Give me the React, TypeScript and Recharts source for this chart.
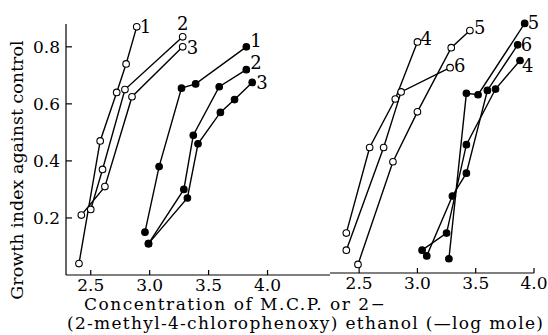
import React from 'react';
import { LineChart, Line, XAxis, YAxis } from 'recharts';

const FONT = '"DejaVu Serif", serif';

// tick values
const xTicks = [2.5, 3.0, 3.5, 4.0];
const yTicks = [0.2, 0.4, 0.6, 0.8];

// Left panel (M.C.P.): open circles
const open1X = [2.40, 2.58, 2.72, 2.80, 2.89];
const open1Y = [0.04, 0.47, 0.64, 0.74, 0.87];
const open2X = [2.50, 2.60, 2.79, 3.28];
const open2Y = [0.23, 0.37, 0.65, 0.835];
const open3X = [2.42, 2.62, 2.85, 3.28];
const open3Y = [0.21, 0.31, 0.625, 0.80];
// Left panel: filled circles
const filled1X = [2.96, 3.08, 3.27, 3.39, 3.82];
const filled1Y = [0.15, 0.38, 0.655, 0.67, 0.80];
const filled2X = [2.99, 3.29, 3.37, 3.59, 3.82];
const filled2Y = [0.11, 0.30, 0.49, 0.66, 0.72];
const filled3X = [2.99, 3.32, 3.41, 3.60, 3.72, 3.87];
const filled3Y = [0.11, 0.27, 0.46, 0.57, 0.615, 0.675];

// Right panel: open circles
const open4X = [2.39, 2.59, 2.81, 3.00];
const open4Y = [0.14, 0.44, 0.61, 0.81];
const open5X = [2.49, 2.79, 3.00, 3.29, 3.45];
const open5Y = [0.03, 0.39, 0.565, 0.79, 0.85];
const open6X = [2.39, 2.71, 2.86, 3.28];
const open6Y = [0.08, 0.44, 0.635, 0.72];
// Right panel: filled circles
const filled4X = [3.04, 3.25, 3.42, 3.67, 3.88];
const filled4Y = [0.08, 0.14, 0.45, 0.645, 0.745];
const filled5X = [3.27, 3.42, 3.52, 3.92];
const filled5Y = [0.05, 0.63, 0.625, 0.875];
const filled6X = [3.08, 3.30, 3.42, 3.60, 3.86];
const filled6Y = [0.06, 0.27, 0.35, 0.64, 0.80];

type Series = { id: string; name: string; xs: number[]; ys: number[]; open: boolean; dx: number; dy: number; anchor?: string };

const leftSeries: Series[] = [
  { id: 'o1', name: '1', xs: open1X, ys: open1Y, open: true, dx: 3, dy: 6 },
  { id: 'o2', name: '2', xs: open2X, ys: open2Y, open: true, dx: 0, dy: -7, anchor: 'middle' },
  { id: 'o3', name: '3', xs: open3X, ys: open3Y, open: true, dx: 4, dy: 7 },
  { id: 'f1', name: '1', xs: filled1X, ys: filled1Y, open: false, dx: 4, dy: 0 },
  { id: 'f2', name: '2', xs: filled2X, ys: filled2Y, open: false, dx: 4, dy: -1 },
  { id: 'f3', name: '3', xs: filled3X, ys: filled3Y, open: false, dx: 4, dy: 7 },
];

const rightSeries: Series[] = [
  { id: 'o4', name: '4', xs: open4X, ys: open4Y, open: true, dx: 3, dy: 3 },
  { id: 'o5', name: '5', xs: open5X, ys: open5Y, open: true, dx: 4, dy: 3 },
  { id: 'o6', name: '6', xs: open6X, ys: open6Y, open: true, dx: 4, dy: 4 },
  { id: 'f4', name: '4', xs: filled4X, ys: filled4Y, open: false, dx: 2, dy: 11 },
  { id: 'f5', name: '5', xs: filled5X, ys: filled5Y, open: false, dx: 3, dy: 6 },
  { id: 'f6', name: '6', xs: filled6X, ys: filled6Y, open: false, dx: 3, dy: 6 },
];

const toData = (xs: number[], ys: number[]) => xs.map((x, i) => ({ x, y: ys[i] }));

function renderLine(s: Series) {
  const data = toData(s.xs, s.ys);
  const last = data.length - 1;
  const dot = (p: any) => (
    <g key={`${s.id}-${p.index}`}>
      <circle
        cx={p.cx}
        cy={p.cy}
        r={3.3}
        fill={s.open ? '#fff' : '#000'}
        stroke="#000"
        strokeWidth={1.1}
      />
      {p.index === last ? (
        <text
          x={p.cx + s.dx}
          y={p.cy + s.dy}
          textAnchor={s.anchor || 'start'}
          fontFamily={FONT}
          fontSize={18}
          fill="#000"
        >
          {s.name}
        </text>
      ) : null}
    </g>
  );
  return (
    <Line
      key={s.id}
      data={data}
      dataKey="y"
      type="linear"
      stroke="#000"
      strokeWidth={1.4}
      dot={dot}
      activeDot={false}
      isAnimationActive={false}
    />
  );
}

const tickStyle = { fill: '#000', fontSize: 17, fontFamily: FONT };
const fmt = (v: number) => v.toFixed(1);

export default function App() {
  return (
    <div style={{ position: 'absolute', left: 0, top: 0, width: 548, height: 335, background: '#fff' }}>
      <div style={{ position: 'absolute', left: 0, top: 0 }}>
        <LineChart width={548} height={335} margin={{ top: 24, right: 218, bottom: 30, left: 36 }}>
          <XAxis
            type="number"
            dataKey="x"
            domain={[2.29, 4.53]}
            ticks={xTicks}
            tickFormatter={fmt}
            interval={0}
            height={30}
            tickSize={-5}
            tickMargin={9}
            tick={tickStyle}
            axisLine={{ stroke: '#000', strokeWidth: 1.2 }}
            tickLine={{ stroke: '#000', strokeWidth: 1.2 }}
            allowDataOverflow
          />
          <YAxis
            type="number"
            domain={[0, 0.88]}
            ticks={yTicks}
            tickFormatter={fmt}
            interval={0}
            width={30}
            tickSize={-6}
            tickMargin={12}
            tick={tickStyle}
            axisLine={{ stroke: '#000', strokeWidth: 1.2 }}
            tickLine={{ stroke: '#000', strokeWidth: 1.2 }}
          />
          {leftSeries.map(renderLine)}
        </LineChart>
      </div>
      <div style={{ position: 'absolute', left: 0, top: 0 }}>
        <LineChart width={548} height={335} margin={{ top: 22, right: 14, bottom: 32, left: 330 }}>
          <XAxis
            type="number"
            dataKey="x"
            domain={[2.25, 4.0]}
            ticks={xTicks}
            tickFormatter={fmt}
            interval={0}
            height={30}
            tickSize={-5}
            tickMargin={9}
            tick={tickStyle}
            axisLine={{ stroke: '#000', strokeWidth: 1.2 }}
            tickLine={{ stroke: '#000', strokeWidth: 1.2 }}
          />
          <YAxis
            type="number"
            domain={[0, 0.88]}
            width={0}
            tick={false}
            tickLine={false}
            axisLine={{ stroke: '#000', strokeWidth: 1.2 }}
          />
          {rightSeries.map(renderLine)}
        </LineChart>
      </div>
      <svg
        width={548}
        height={335}
        style={{ position: 'absolute', left: 0, top: 0, pointerEvents: 'none' }}
      >
        <text
          transform="translate(23,170) rotate(-90)"
          textAnchor="middle"
          fontFamily={FONT}
          fontSize={17.5}
          fill="#000"
        >
          Growth index against control
        </text>
        <text x={84} y={310} fontFamily={FONT} fontSize={17} letterSpacing={1.5} fill="#000">
          Concentration of M.C.P. or 2−
        </text>
        <text x={67} y={329} fontFamily={FONT} fontSize={17} letterSpacing={1.3} fill="#000">
          (2-methyl-4-chlorophenoxy) ethanol (—log mole)
        </text>
      </svg>
    </div>
  );
}
